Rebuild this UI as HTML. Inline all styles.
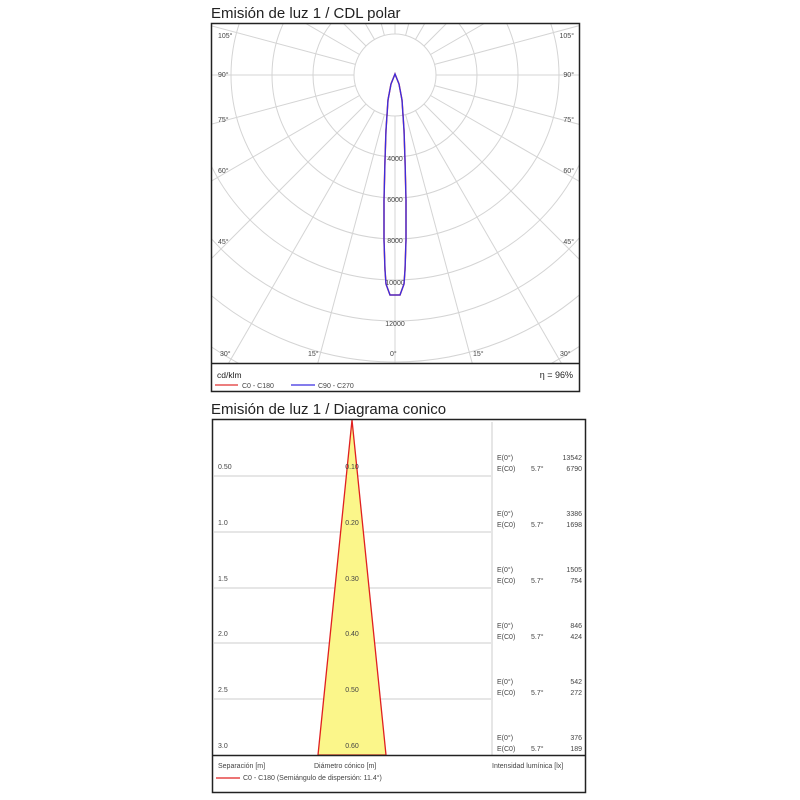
<!DOCTYPE html>
<html><head><meta charset="utf-8"><style>
html,body{margin:0;padding:0;background:#fff;}
svg{display:block;font-family:"Liberation Sans",sans-serif;}
</style></head><body>
<svg width="800" height="800" viewBox="0 0 800 800">
<rect width="800" height="800" fill="#fff"/>
<text x="211" y="18" font-size="15" fill="#222">Emisión de luz 1 / CDL polar</text>
<defs><clipPath id="pc"><rect x="212" y="24" width="367" height="339"/></clipPath></defs>
<g clip-path="url(#pc)" stroke="#d4d4d4" stroke-width="1" fill="none">
<circle cx="395" cy="75" r="41"/><circle cx="395" cy="75" r="82"/><circle cx="395" cy="75" r="123"/>
<circle cx="395" cy="75" r="164"/><circle cx="395" cy="75" r="205"/><circle cx="395" cy="75" r="246"/>
<circle cx="395" cy="75" r="287"/><circle cx="395" cy="75" r="328"/><circle cx="395" cy="75" r="369"/>
<circle cx="395" cy="75" r="410"/><circle cx="395" cy="75" r="451"/>
<g>
<line x1="395" y1="116" x2="395" y2="700"/>
<line x1="395" y1="116" x2="395" y2="700" transform="rotate(15 395 75)"/>
<line x1="395" y1="116" x2="395" y2="700" transform="rotate(30 395 75)"/>
<line x1="395" y1="116" x2="395" y2="700" transform="rotate(45 395 75)"/>
<line x1="395" y1="116" x2="395" y2="700" transform="rotate(60 395 75)"/>
<line x1="395" y1="116" x2="395" y2="700" transform="rotate(75 395 75)"/>
<line x1="395" y1="116" x2="395" y2="700" transform="rotate(90 395 75)"/>
<line x1="395" y1="116" x2="395" y2="700" transform="rotate(105 395 75)"/>
<line x1="395" y1="116" x2="395" y2="700" transform="rotate(120 395 75)"/>
<line x1="395" y1="116" x2="395" y2="700" transform="rotate(135 395 75)"/>
<line x1="395" y1="116" x2="395" y2="700" transform="rotate(150 395 75)"/>
<line x1="395" y1="116" x2="395" y2="700" transform="rotate(165 395 75)"/>
<line x1="395" y1="116" x2="395" y2="700" transform="rotate(180 395 75)"/>
<line x1="395" y1="116" x2="395" y2="700" transform="rotate(-15 395 75)"/>
<line x1="395" y1="116" x2="395" y2="700" transform="rotate(-30 395 75)"/>
<line x1="395" y1="116" x2="395" y2="700" transform="rotate(-45 395 75)"/>
<line x1="395" y1="116" x2="395" y2="700" transform="rotate(-60 395 75)"/>
<line x1="395" y1="116" x2="395" y2="700" transform="rotate(-75 395 75)"/>
<line x1="395" y1="116" x2="395" y2="700" transform="rotate(-90 395 75)"/>
<line x1="395" y1="116" x2="395" y2="700" transform="rotate(-105 395 75)"/>
<line x1="395" y1="116" x2="395" y2="700" transform="rotate(-120 395 75)"/>
<line x1="395" y1="116" x2="395" y2="700" transform="rotate(-135 395 75)"/>
<line x1="395" y1="116" x2="395" y2="700" transform="rotate(-150 395 75)"/>
<line x1="395" y1="116" x2="395" y2="700" transform="rotate(-165 395 75)"/>
</g>
</g>
<g font-size="7" fill="#444">
<text x="218" y="38">105°</text><text x="218" y="77">90°</text><text x="218" y="122">75°</text>
<text x="218" y="173">60°</text><text x="218" y="244">45°</text><text x="220" y="356">30°</text>
<text x="308" y="356">15°</text><text x="390" y="356">0°</text><text x="473" y="356">15°</text>
<text x="560" y="356">30°</text>
<g text-anchor="end"><text x="574" y="38">105°</text><text x="574" y="77">90°</text><text x="574" y="122">75°</text>
<text x="574" y="173">60°</text><text x="574" y="244">45°</text></g>
<g text-anchor="middle"><text x="395" y="161">4000</text><text x="395" y="202">6000</text><text x="395" y="243">8000</text>
<text x="395" y="285">10000</text><text x="395" y="326">12000</text></g>
</g>
<path d="M395,74 L399,84 L402,100 L404,130 L405,160 L406,200 L406,240 L405,270 L404,284 L400,295 L390,295 L386,284 L385,270 L384,240 L384,200 L385,160 L386,130 L388,100 L391,84 Z" fill="none" stroke="#e03030" stroke-width="1.5"/>
<path d="M395,74 L399,84 L402,100 L404,130 L405,160 L406,200 L406,240 L405,270 L404,284 L400,295 L390,295 L386,284 L385,270 L384,240 L384,200 L385,160 L386,130 L388,100 L391,84 Z" fill="none" stroke="#3a2ee0" stroke-width="1.3"/>
<rect x="211.5" y="23.5" width="368" height="368" fill="none" stroke="#222" stroke-width="1.5"/>
<line x1="211" y1="363.5" x2="580" y2="363.5" stroke="#222" stroke-width="1.5"/>
<text x="217" y="378" font-size="8.5" fill="#222">cd/klm</text>
<text x="573" y="378" font-size="9" fill="#222" text-anchor="end">η = 96%</text>
<line x1="215" y1="385" x2="238" y2="385" stroke="#e03030" stroke-width="1.2"/>
<text x="242" y="388" font-size="7" fill="#444">C0 - C180</text>
<line x1="291" y1="385" x2="315" y2="385" stroke="#3a2ee0" stroke-width="1.2"/>
<text x="318" y="388" font-size="7" fill="#444">C90 - C270</text>

<text x="211" y="414" font-size="15" fill="#222">Emisión de luz 1 / Diagrama conico</text>
<g stroke="#ccc" stroke-width="1">
<line x1="214" y1="476" x2="491" y2="476"/><line x1="214" y1="532" x2="491" y2="532"/>
<line x1="214" y1="588" x2="491" y2="588"/><line x1="214" y1="643" x2="491" y2="643"/>
<line x1="214" y1="699" x2="491" y2="699"/>
<line x1="492" y1="422" x2="492" y2="755"/>
</g>
<path d="M352,420 L386,755 L318,755 Z" fill="#fbf68a" stroke="#e02020" stroke-width="1.3"/>
<g font-size="7" fill="#444">
<text x="218" y="469">0.50</text><text x="218" y="525">1.0</text><text x="218" y="581">1.5</text>
<text x="218" y="636">2.0</text><text x="218" y="692">2.5</text><text x="218" y="748">3.0</text>
<g text-anchor="middle"><text x="352" y="469">0.10</text><text x="352" y="525">0.20</text><text x="352" y="581">0.30</text>
<text x="352" y="636">0.40</text><text x="352" y="692">0.50</text><text x="352" y="748">0.60</text></g>
<g id="r">
<text x="497" y="460">E(0°)</text><text x="497" y="471">E(C0)</text><text x="531" y="471">5.7°</text>
<text x="497" y="516">E(0°)</text><text x="497" y="527">E(C0)</text><text x="531" y="527">5.7°</text>
<text x="497" y="572">E(0°)</text><text x="497" y="583">E(C0)</text><text x="531" y="583">5.7°</text>
<text x="497" y="628">E(0°)</text><text x="497" y="639">E(C0)</text><text x="531" y="639">5.7°</text>
<text x="497" y="684">E(0°)</text><text x="497" y="695">E(C0)</text><text x="531" y="695">5.7°</text>
<text x="497" y="740">E(0°)</text><text x="497" y="751">E(C0)</text><text x="531" y="751">5.7°</text>
</g>
<g text-anchor="end">
<text x="582" y="460">13542</text><text x="582" y="471">6790</text>
<text x="582" y="516">3386</text><text x="582" y="527">1698</text>
<text x="582" y="572">1505</text><text x="582" y="583">754</text>
<text x="582" y="628">846</text><text x="582" y="639">424</text>
<text x="582" y="684">542</text><text x="582" y="695">272</text>
<text x="582" y="740">376</text><text x="582" y="751">189</text>
</g>
<text x="218" y="768">Separación [m]</text>
<text x="314" y="768">Diámetro cónico [m]</text>
<text x="492" y="768">Intensidad lumínica [lx]</text>
<text x="243" y="780">C0 - C180 (Semiángulo de dispersión: 11.4°)</text>
</g>
<line x1="216" y1="778" x2="240" y2="778" stroke="#e02020" stroke-width="1.2"/>
<rect x="212.5" y="419.5" width="373" height="373" fill="none" stroke="#222" stroke-width="1.5"/>
<line x1="212" y1="755.5" x2="586" y2="755.5" stroke="#222" stroke-width="1.5"/>
</svg>
</body></html>
